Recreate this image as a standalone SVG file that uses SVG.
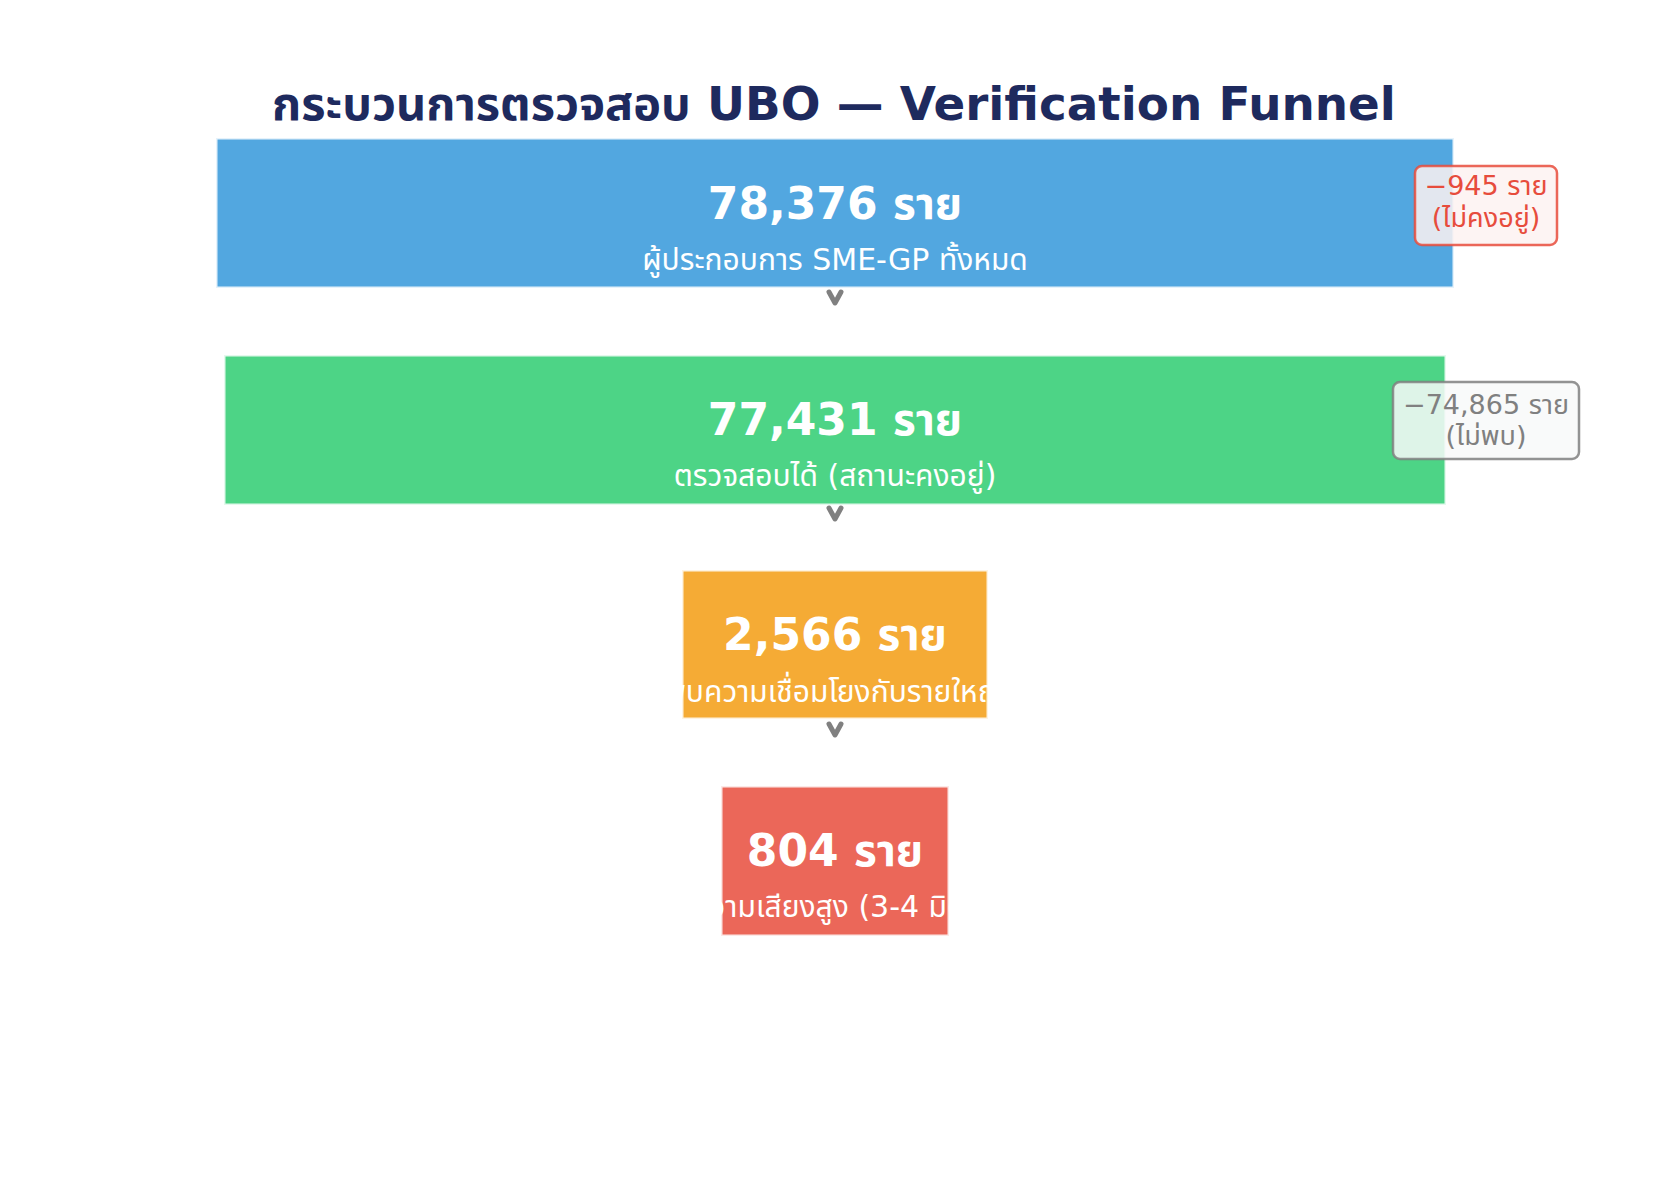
<svg xmlns="http://www.w3.org/2000/svg" width="1670" height="1198" viewBox="0 0 1670 1198">
<style>
  .title { font-family: "DejaVu Sans", "Noto Sans Thai", "Noto Sans Thai UI", "Noto Sans", sans-serif; font-weight: bold; font-size: 46.8px; fill: #1e2a5e; text-anchor: middle; }
  .num { font-family: "DejaVu Sans", "Noto Sans Thai", "Noto Sans Thai UI", "Noto Sans", sans-serif; font-weight: bold; font-size: 44px; fill: #ffffff; text-anchor: middle; }
  .sub { font-family: "DejaVu Sans", "Noto Sans Thai", "Noto Sans Thai UI", "Noto Sans", sans-serif; font-size: 30px; fill: #ffffff; text-anchor: middle; }
  .bar { fill-opacity: 0.85; stroke: #ffffff; stroke-opacity: 0.85; stroke-width: 3; }
  .note { font-family: "DejaVu Sans", "Noto Sans Thai", "Noto Sans Thai UI", "Noto Sans", sans-serif; font-size: 27px; text-anchor: middle; }
  .chev { fill: none; stroke: #808080; stroke-width: 5; stroke-linecap: round; stroke-linejoin: round; }
</style>
<defs>
  <clipPath id="c1"><rect x="216" y="138" width="1238" height="150"/></clipPath>
  <clipPath id="c2"><rect x="224" y="355" width="1222" height="150"/></clipPath>
  <clipPath id="c3"><rect x="682" y="570" width="306" height="149"/></clipPath>
  <clipPath id="c4"><rect x="721" y="786" width="228" height="150"/></clipPath>
</defs>
<rect width="1670" height="1198" fill="#ffffff"/>
<text class="title" x="834" y="120">กระบวนการตรวจสอบ UBO — Verification Funnel</text>

<g id="stage1">
  <rect class="bar" x="216" y="138" width="1238" height="150" fill="#3498db"/>
  <g clip-path="url(#c1)">
    <text class="num" x="835" y="219">78,376 ราย</text>
    <text class="sub" x="835" y="270">ผู้ประกอบการ SME-GP ทั้งหมด</text>
  </g>
</g>
<g id="stage2">
  <rect class="bar" x="224" y="355" width="1222" height="150" fill="#2ecc71"/>
  <g clip-path="url(#c2)">
    <text class="num" x="835" y="435">77,431 ราย</text>
    <text class="sub" x="835" y="486">ตรวจสอบได้ (สถานะคงอยู่)</text>
  </g>
</g>
<g id="stage3">
  <rect class="bar" x="682" y="570" width="306" height="149" fill="#f39c12"/>
  <g clip-path="url(#c3)">
    <text class="num" x="835" y="650">2,566 ราย</text>
    <text class="sub" x="835" y="702">พบความเชื่อมโยงกับรายใหญ่</text>
  </g>
</g>
<g id="stage4">
  <rect class="bar" x="721" y="786" width="228" height="150" fill="#e74c3c"/>
  <g clip-path="url(#c4)">
    <text class="num" x="835" y="866">804 ราย</text>
    <text class="sub" x="835" y="917">ความเสียงสูง (3-4 มิติ)</text>
  </g>
</g>

<g id="drop1">
  <rect x="1415" y="166" width="142" height="79" rx="7" fill="#fdf2f1" fill-opacity="0.85" stroke="#e74c3c" stroke-opacity="0.85" stroke-width="2.5"/>
  <text class="note" x="1486" y="195" fill="#e74c3c">−945 ราย</text>
  <text class="note" x="1486" y="227" fill="#e74c3c">(ไม่คงอยู่)</text>
</g>
<g id="drop2">
  <rect x="1393" y="382" width="186" height="77" rx="7" fill="#f8f9f9" fill-opacity="0.85" stroke="#808080" stroke-opacity="0.85" stroke-width="2.5"/>
  <text class="note" x="1486" y="414" fill="#808080">−74,865 ราย</text>
  <text class="note" x="1486" y="445" fill="#808080">(ไม่พบ)</text>
</g>

<g id="connectors">
  <path class="chev" d="M829,292 L835,303 L841,292"/>
  <path class="chev" d="M829,508 L835,519 L841,508"/>
  <path class="chev" d="M829,724 L835,735 L841,724"/>
</g>
</svg>
